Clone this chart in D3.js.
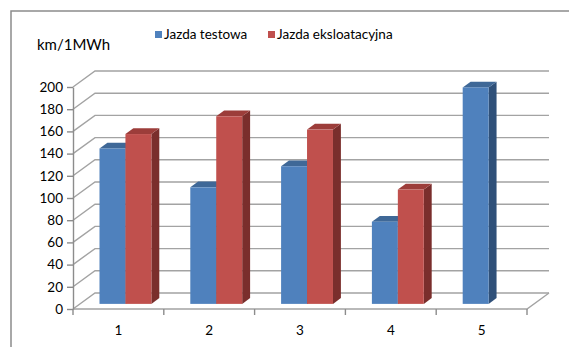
<!DOCTYPE html>
<html>
<head>
<meta charset="utf-8">
<script src="https://d3js.org/d3.v7.min.js"></script>
<style>
  body { margin: 0; background: #fff; }
  svg text { font-family: Lato, 'Open Sans', sans-serif; fill: #000; }
</style>
</head>
<body>
<svg width="569" height="347"></svg>
<script>
// chart data
const categories = ["1", "2", "3", "4", "5"];
const seriesNames = ["Jazda testowa", "Jazda eksloatacyjna"];
const testowa = [140, 105, 124, 74, 195];
const eksploatacyjna = [153, 169, 157, 103, null];
const yTicks = [0, 20, 40, 60, 80, 100, 120, 140, 160, 180, 200];

const colors = [
  {front: "#4F81BD", top: "#3f6897", side: "#2f5079"},
  {front: "#C0504D", top: "#9c3d3a", side: "#7a2e2c"}
];

const svg = d3.select("svg");

// outer frame (cut off right and bottom)
svg.append("path")
  .attr("d", "M11,347 L11,11 L569,11")
  .attr("fill", "none").attr("stroke", "#8c8c8c").attr("stroke-width", 1.5);

// 3d depth vector of the floor
const depth = {dx: 22, dy: -16};
const left = 73, right = 527;

const x = d3.scaleBand().domain(categories).range([left, right]).padding(0);
const y = d3.scaleLinear().domain([0, 200]).range([309, 87]);

const grid = svg.append("g").attr("fill", "none").attr("stroke", "#a3a3a3").attr("stroke-width", 1.4);

// gridlines: left wall diagonal + back wall line
yTicks.forEach(v => {
  const yy = y(v);
  grid.append("path")
    .attr("d", `M${left},${yy} L${left + depth.dx},${yy + depth.dy} L${right + depth.dx},${yy + depth.dy}`);
});
// floor front edge and right diagonal
grid.append("path")
  .attr("d", `M${left},${y(0)} L${right},${y(0)} L${right + depth.dx},${y(0) + depth.dy}`);

// y axis
const yAxis = svg.append("g")
  .attr("transform", `translate(${left},0)`)
  .call(d3.axisLeft(y).tickValues(yTicks).tickSize(6).tickPadding(4).tickSizeOuter(0));
yAxis.select(".domain").attr("stroke", "#8c8c8c").attr("stroke-width", 1.4);
yAxis.selectAll(".tick line").attr("stroke", "#8c8c8c").attr("stroke-width", 1.4);
yAxis.selectAll(".tick text").attr("font-size", 13.5).attr("fill", "#000")
  .style("font-family", "Lato, 'Open Sans', sans-serif");

// x axis ticks at category boundaries
const bounds = categories.map(c => x(c)).concat([right]);
svg.append("g").selectAll("line")
  .data(bounds)
  .join("line")
  .attr("x1", d => d).attr("x2", d => d)
  .attr("y1", y(0)).attr("y2", y(0) + 6)
  .attr("stroke", "#8c8c8c").attr("stroke-width", 1.4);

svg.append("g").selectAll("text")
  .data(categories)
  .join("text")
  .attr("x", d => x(d) + x.bandwidth() / 2)
  .attr("y", 335)
  .attr("text-anchor", "middle")
  .attr("font-size", 13.5)
  .text(d => d);

// bars: front plane at t0, back plane at t1 of the depth
const t0 = 0.32, t1 = 0.68;
const fx = depth.dx * t0, fy = depth.dy * t0;
const bx = depth.dx * t1, by = depth.dy * t1;
const barW = x.bandwidth() / 3.5;
const gap = barW * 0.75;

const series = [testowa, eksploatacyjna];
const bars = svg.append("g");

categories.forEach((c, i) => {
  series.forEach((vals, s) => {
    const v = vals[i];
    if (v == null) return;
    const x0 = x(c) + gap + s * barW + fx;
    const x1 = x0 + barW;
    const yb = y(0) + fy;
    const yt = y(v) + fy;
    const ddx = bx - fx, ddy = by - fy;
    const col = colors[s];
    // side face
    bars.append("path")
      .attr("d", `M${x1},${yb} L${x1 + ddx},${yb + ddy} L${x1 + ddx},${yt + ddy} L${x1},${yt} Z`)
      .attr("fill", col.side);
    // top face
    bars.append("path")
      .attr("d", `M${x0},${yt} L${x0 + ddx},${yt + ddy} L${x1 + ddx},${yt + ddy} L${x1},${yt} Z`)
      .attr("fill", col.top);
    // front face
    bars.append("rect")
      .attr("x", x0).attr("y", yt)
      .attr("width", barW).attr("height", yb - yt)
      .attr("fill", col.front);
  });
});

// axis title
svg.append("text")
  .attr("x", 37).attr("y", 50)
  .attr("font-size", 15)
  .text("km/1MWh");

// legend
const legendX = [155, 268];
const legend = svg.append("g");
seriesNames.forEach((name, s) => {
  legend.append("rect")
    .attr("x", legendX[s]).attr("y", 31)
    .attr("width", 7).attr("height", 7)
    .attr("fill", colors[s].front);
  legend.append("text")
    .attr("x", legendX[s] + 9).attr("y", 38.5)
    .attr("font-size", 13.5)
    .text(name);
});
</script>
</body>
</html>
